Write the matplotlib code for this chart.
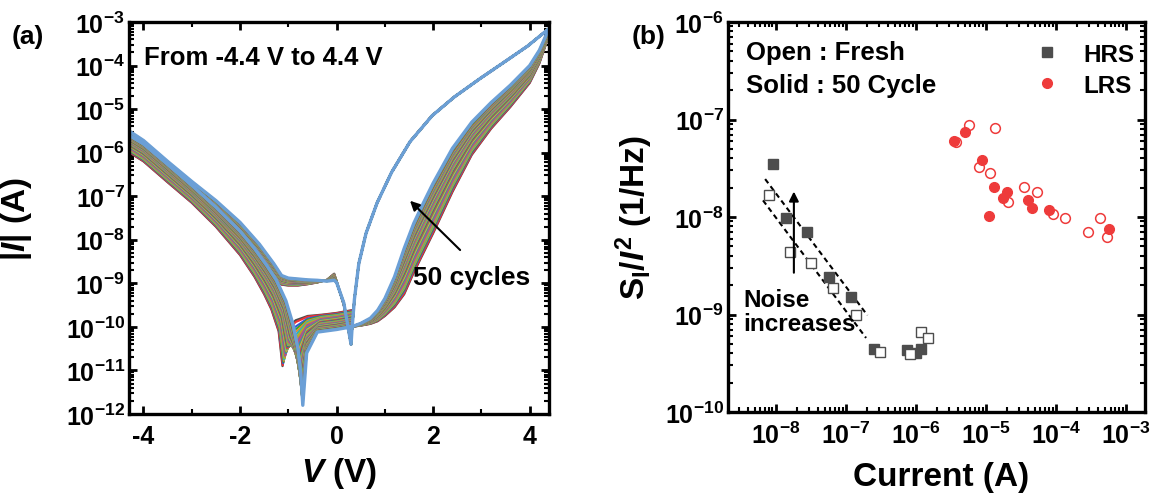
import numpy as np
import matplotlib
matplotlib.use("Agg")
import matplotlib.pyplot as plt
from matplotlib import ticker

plt.rcParams["font.family"] = "Liberation Sans"
plt.rcParams["font.weight"] = "bold"
plt.rcParams["axes.labelweight"] = "bold"
plt.rcParams["axes.unicode_minus"] = False
plt.rcParams["mathtext.fontset"] = "custom"
plt.rcParams["mathtext.rm"] = "Liberation Sans:bold"
plt.rcParams["mathtext.bf"] = "Liberation Sans:bold"
plt.rcParams["mathtext.it"] = "Liberation Sans:italic:bold"
plt.rcParams["mathtext.sf"] = "Liberation Sans:bold"
plt.rcParams["mathtext.default"] = "bf"

# ── (a) I-V sweeps, log10|I| ──────────────────────────────────────
# set branch (0.3 V -> 4.4 V), first and last cycle
set_v          = [0.30, 0.50, 0.70, 0.85, 1.00, 1.20, 1.40, 1.60, 1.80, 2.00, 2.40, 2.80, 3.20, 3.60, 4.00, 4.20, 4.40]
set_logi_first = [-10.0, -9.97, -9.93, -9.87, -9.75, -9.55, -9.25, -8.75, -8.30, -7.85, -6.90, -6.05, -5.45, -4.95, -4.40, -3.95, -3.30]
set_logi_last  = [-10.0, -9.92, -9.80, -9.62, -9.35, -8.85, -8.20, -7.62, -7.15, -6.70, -5.90, -5.30, -4.85, -4.45, -4.00, -3.65, -3.15]

# LRS return (4.4 V -> 0.3 V), same for every cycle
lrs_v    = [4.40, 3.96, 3.50, 2.97, 2.44, 1.98, 1.52, 1.14, 0.84, 0.61, 0.46, 0.37, 0.32, 0.30]
lrs_logi = [-3.15, -3.55, -3.90, -4.30, -4.72, -5.15, -5.75, -6.45, -7.15, -7.85, -8.55, -9.36, -10.04, -10.4]

# negative sweep (0.3 V -> -4.3 V)
neg_v          = [0.30, 0.15, 0.00, -0.05, -0.20, -0.40, -0.60, -0.80, -1.00, -1.14, -1.30, -1.60, -2.00, -2.50, -3.00, -3.50, -4.00, -4.30]
neg_logi_first = [-10.4, -9.50, -8.95, -8.78, -8.92, -8.98, -9.02, -9.05, -9.05, -9.03, -8.85, -8.45, -7.95, -7.45, -6.98, -6.50, -6.05, -5.85]
neg_logi_last  = [-10.4, -9.45, -8.98, -8.93, -8.95, -8.93, -8.92, -8.90, -8.88, -8.82, -8.55, -8.10, -7.60, -7.10, -6.66, -6.20, -5.72, -5.50]

# return to zero (-4.3 V -> 0.3 V), with the crossing dip
ret_v_first    = [-4.30, -4.00, -3.50, -3.00, -2.50, -2.00, -1.70, -1.50, -1.35, -1.20, -1.12, -1.06, -0.98, -0.85, -0.60, -0.30, 0.00, 0.30]
ret_logi_first = [-5.99, -6.20, -6.68, -7.15, -7.70, -8.35, -8.85, -9.25, -9.60, -10.1, -10.9, -10.35, -10.0, -9.85, -9.75, -9.72, -9.68, -9.62]
ret_v_last     = [-4.30, -4.00, -3.50, -3.00, -2.50, -2.00, -1.70, -1.45, -1.25, -1.05, -0.90, -0.80, -0.74, -0.70, -0.62, -0.40, 0.00, 0.30]
ret_logi_last  = [-5.60, -5.80, -6.27, -6.75, -7.25, -7.80, -8.20, -8.58, -8.92, -9.40, -9.95, -10.5, -11.1, -11.8, -10.6, -10.12, -10.06, -10.0]

# where each of the 50 cycles sits between the first and the last one
cycle_pos = [0.00, 0.02, 0.07, 0.10, 0.13, 0.16, 0.19, 0.22, 0.25, 0.28,
             0.31, 0.34, 0.37, 0.40, 0.42, 0.44, 0.47, 0.49, 0.51, 0.53,
             0.55, 0.57, 0.59, 0.61, 0.63, 0.65, 0.67, 0.69, 0.71, 0.72,
             0.74, 0.76, 0.77, 0.79, 0.80, 0.82, 0.83, 0.85, 0.86, 0.87,
             0.89, 0.90, 0.91, 0.92, 0.94, 0.95, 0.96, 0.97, 0.99, 1.00]
cycle_colors = ["#ee3333", "#3355dd", "#33a033", "#ee8822", "#22b5c0", "#9fb533",
                "#cc9922", "#8855bb", "#dd5555", "#4477cc", "#55aa55", "#ff9933",
                "#33bbbb", "#88aa22"]

iv_xticks = [-4, -2, 0, 2, 4]
iv_yticks = [1e-12, 1e-11, 1e-10, 1e-9, 1e-8, 1e-7, 1e-6, 1e-5, 1e-4, 1e-3]

# ── (b) noise data ───────────────────────────────────────────────
hrs_cyc_i = [9.1e-9, 1.41e-8, 2.82e-8, 5.75e-8, 1.20e-7, 2.51e-7, 7.6e-7, 1.02e-6, 1.20e-6]
hrs_cyc_s = [3.47e-8, 9.8e-9, 7.1e-9, 2.45e-9, 1.51e-9, 4.47e-10, 4.37e-10, 4.07e-10, 4.47e-10]
hrs_fresh_i = [8.1e-9, 1.58e-8, 3.16e-8, 6.6e-8, 1.41e-7, 3.09e-7, 8.3e-7, 1.17e-6, 1.48e-6]
hrs_fresh_s = [1.70e-8, 4.37e-9, 3.39e-9, 1.86e-9, 9.8e-10, 4.17e-10, 3.89e-10, 6.6e-10, 5.75e-10]
lrs_cyc_i = [3.47e-6, 5.0e-6, 8.7e-6, 1.29e-5, 2.0e-5, 1.78e-5, 1.10e-5, 3.98e-5, 4.57e-5, 7.9e-5, 5.75e-4]
lrs_cyc_s = [6.0e-8, 7.4e-8, 3.8e-8, 2.04e-8, 1.82e-8, 1.55e-8, 1.02e-8, 1.51e-8, 1.23e-8, 1.17e-8, 7.6e-9]
lrs_fresh_i = [3.7e-6, 5.75e-6, 1.35e-5, 8.1e-6, 1.15e-5, 2.09e-5, 3.55e-5, 5.4e-5, 9.1e-5, 1.35e-4, 2.82e-4, 4.27e-4, 5.4e-4]
lrs_fresh_s = [5.9e-8, 8.7e-8, 8.1e-8, 3.24e-8, 2.82e-8, 1.41e-8, 2.04e-8, 1.82e-8, 1.07e-8, 9.8e-9, 7.1e-9, 9.8e-9, 6.2e-9]
fit_upper_i = [7.08e-9, 2.04e-7]
fit_upper_s = [2.45e-8, 9.8e-10]
fit_lower_i = [6.6e-9, 1.95e-7]
fit_lower_s = [1.48e-8, 5.75e-10]

noise_xticks = [1e-8, 1e-7, 1e-6, 1e-5, 1e-4, 1e-3]
noise_yticks = [1e-10, 1e-9, 1e-8, 1e-7, 1e-6]

HRS_COLOR = "#4d4d4d"
LRS_COLOR = "#ee3b3b"


def sci_label(v, pos):
    return r"$10^{%d}$" % int(round(np.log10(v)))


def style_axis(ax):
    for s in ax.spines.values():
        s.set_linewidth(2.4)
    ax.tick_params(which="both", direction="in", top=True, right=True)
    ax.tick_params(which="major", length=6, width=2, labelsize=18)
    ax.tick_params(which="minor", length=3.5, width=1.5)
    ax.tick_params(axis="y", pad=3)
    ax.tick_params(axis="x", pad=7)


def log_axis(axis, ticks):
    axis.set_major_locator(ticker.FixedLocator(ticks))
    axis.set_minor_locator(ticker.LogLocator(base=10, subs=np.arange(2, 10), numticks=20))
    axis.set_major_formatter(ticker.FuncFormatter(sci_label))
    axis.set_minor_formatter(ticker.NullFormatter())


fig = plt.figure(figsize=(11.54, 5.02), dpi=100)
ax1 = fig.add_axes([129 / 1154, 1 - 415 / 502, 420 / 1154, 392 / 502])
ax2 = fig.add_axes([728 / 1154, 1 - 413 / 502, 417 / 1154, 390 / 502])

# ── 1. I-V sweeps ─────────────────────────────────────────────────
n = len(cycle_pos)
for i, w in enumerate(cycle_pos):
    sv = np.array(set_v)
    si = (1 - w) * np.array(set_logi_first) + w * np.array(set_logi_last)
    nv = np.array(neg_v)
    ni = (1 - w) * np.array(neg_logi_first) + w * np.array(neg_logi_last)
    rv = (1 - w) * np.array(ret_v_first) + w * np.array(ret_v_last)
    ri = (1 - w) * np.array(ret_logi_first) + w * np.array(ret_logi_last)
    v = np.concatenate([sv, lrs_v, nv, rv])
    logi = np.concatenate([si, lrs_logi, ni, ri])
    if i == 0:
        c, lw = "#4d4d4d", 1.6
    elif i == n - 1:
        c, lw = "#6b9fd6", 2.4
    else:
        c, lw = cycle_colors[(i - 1) % len(cycle_colors)], 1.5
    ax1.plot(v, 10.0 ** logi, color=c, lw=lw, solid_joinstyle="round")

ax1.set_yscale("log")
ax1.set_xlim(-4.3, 4.4)
ax1.set_ylim(1e-12, 1e-3)
ax1.xaxis.set_major_locator(ticker.FixedLocator(iv_xticks))
ax1.xaxis.set_minor_locator(ticker.MultipleLocator(1))
ax1.xaxis.set_major_formatter(ticker.FuncFormatter(lambda v, p: "%d" % v))
log_axis(ax1.yaxis, iv_yticks)
style_axis(ax1)
plt.setp(ax1.get_xticklabels(), fontweight="bold")

ax1.set_xlabel(r"$\mathit{V}$ (V)", fontsize=24)
ax1.set_ylabel(r"$|\mathit{I}|$ (A)", fontsize=24)
ax1.xaxis.set_label_coords(0.50, -0.105)
ax1.yaxis.set_label_coords(-0.225, 0.50)

ax1.text(0.035, 0.91, "From -4.4 V to 4.4 V", transform=ax1.transAxes,
         fontsize=18.5, ha="left", va="center")
ax1.annotate("", xy=(1.48, 10 ** -7.06), xytext=(2.60, 10 ** -8.28),
             arrowprops=dict(arrowstyle="-|>", color="black", lw=1.5, mutation_scale=14))
ax1.text(2.80, 10 ** -8.85, "50 cycles", fontsize=19, ha="center", va="center")

# ── 2. Normalised noise ───────────────────────────────────────────
ax2.plot(fit_upper_i, fit_upper_s, color="black", lw=1.5, ls=(0, (2.5, 1.8)))
ax2.plot(fit_lower_i, fit_lower_s, color="black", lw=1.5, ls=(0, (2.5, 1.8)))
ax2.plot(hrs_cyc_i, hrs_cyc_s, "s", ms=6.5, color=HRS_COLOR, mec=HRS_COLOR, label="HRS")
ax2.plot(hrs_fresh_i, hrs_fresh_s, "s", ms=6.5, mfc="white", mec=HRS_COLOR, mew=1.0)
ax2.plot(lrs_cyc_i, lrs_cyc_s, "o", ms=7, color=LRS_COLOR, mec=LRS_COLOR, label="LRS")
ax2.plot(lrs_fresh_i, lrs_fresh_s, "o", ms=7, mfc="none", mec=LRS_COLOR, mew=1.1)

ax2.annotate("", xy=(10 ** -7.74, 10 ** -7.71), xytext=(10 ** -7.74, 10 ** -8.60),
             arrowprops=dict(arrowstyle="-|>", color="black", lw=1.5, mutation_scale=14))
ax2.text(10 ** -8.46, 10 ** -8.97, "Noise\nincreases", fontsize=17.5,
         ha="left", va="center", linespacing=1.05)

ax2.set_xscale("log")
ax2.set_yscale("log")
ax2.set_xlim(10 ** -8.68, 10 ** -2.73)
ax2.set_ylim(1e-10, 1e-6)
log_axis(ax2.xaxis, noise_xticks)
log_axis(ax2.yaxis, noise_yticks)
style_axis(ax2)

ax2.set_xlabel("Current (A)", fontsize=24)
ax2.set_ylabel(r"$S_{I}/\mathit{I}^{2}$ (1/Hz)", fontsize=24)
ax2.xaxis.set_label_coords(0.51, -0.125)
ax2.yaxis.set_label_coords(-0.175, 0.50)

ax2.text(0.043, 0.923, "Open : Fresh", transform=ax2.transAxes, fontsize=18.5, ha="left", va="center")
ax2.text(0.043, 0.838, "Solid : 50 Cycle", transform=ax2.transAxes, fontsize=18.5, ha="left", va="center")
ax2.legend(loc="upper right", bbox_to_anchor=(1.015, 0.99), frameon=False, fontsize=17.5,
           handletextpad=1.0, handlelength=1.0, labelspacing=0.32, borderaxespad=0.3)

fig.text(28 / 1154, 1 - 37 / 502, "(a)", fontsize=19, ha="center", va="center")
fig.text(649 / 1154, 1 - 37 / 502, "(b)", fontsize=19, ha="center", va="center")

fig.savefig("out.png", dpi=100)
plt.close(fig)
